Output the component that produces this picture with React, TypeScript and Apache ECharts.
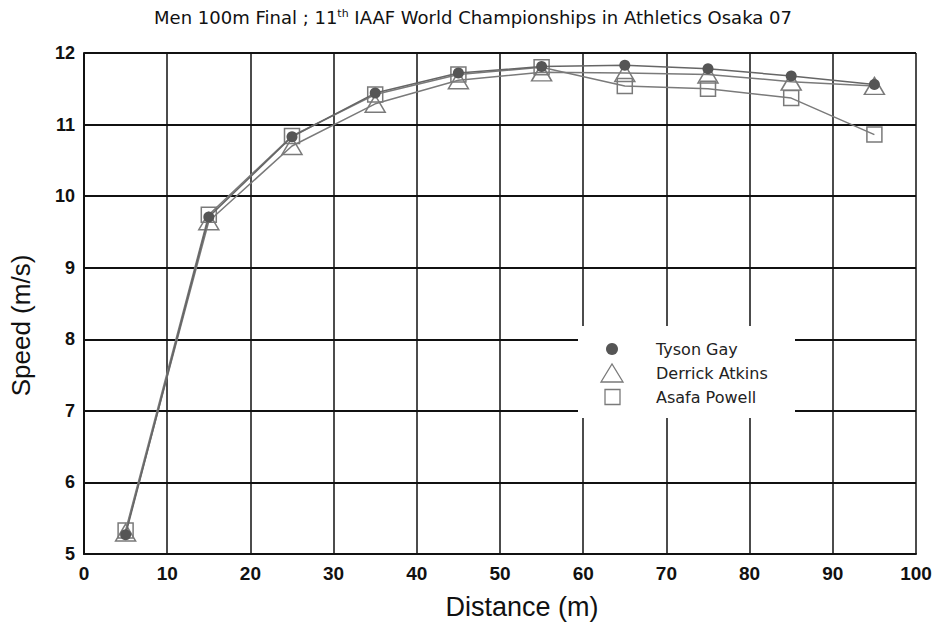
import React, { useEffect, useRef } from "react";
import * as echarts from "echarts";

const distances = [5, 15, 25, 35, 45, 55, 65, 75, 85, 95];
const tysonGay = [5.27, 9.71, 10.83, 11.44, 11.72, 11.81, 11.83, 11.78, 11.68, 11.56];
const derrickAtkins = [5.3, 9.65, 10.7, 11.29, 11.62, 11.73, 11.72, 11.7, 11.6, 11.54];
const asafaPowell = [5.33, 9.74, 10.84, 11.42, 11.7, 11.8, 11.54, 11.5, 11.37, 10.86];

const seriesNames = ["Tyson Gay", "Derrick Atkins", "Asafa Powell"];
const xTicks = { min: 0, max: 100, interval: 10 };
const yTicks = { min: 5, max: 12, interval: 1 };

const NARROW = "'Liberation Sans Narrow', 'Liberation Sans', sans-serif";
const SANS = "'Liberation Sans', sans-serif";
const WIDE = "'DejaVu Sans', sans-serif";
const LINE = "#7a7a7a";

export default function App() {
  const ref = useRef<HTMLDivElement>(null);
  useEffect(() => {
    const chart = echarts.init(ref.current!, undefined, { renderer: "svg" });
    const pairs = (arr: number[]) => distances.map((d, i) => [d, arr[i]]);
    const legendRows = [349, 373, 397];
    chart.setOption({
      animation: false,
      backgroundColor: "#fff",
      title: {
        text: "Men 100m Final ; 11{sup|th} IAAF World Championships in Athletics Osaka 07",
        left: 468,
        textAlign: "center",
        top: 3,
        textStyle: {
          fontFamily: WIDE,
          fontSize: 18,
          fontWeight: "normal",
          color: "#111",
          rich: {
            sup: {
              fontSize: 11,
              verticalAlign: "top",
              padding: [0, 0, 8, 0],
              fontFamily: WIDE,
              color: "#111",
            },
          },
        },
      },
      grid: { left: 84, right: 20, top: 53, bottom: 70, containLabel: false },
      xAxis: {
        type: "value",
        min: xTicks.min,
        max: xTicks.max,
        interval: xTicks.interval,
        name: "Distance (m)",
        nameLocation: "middle",
        nameGap: 39,
        nameTextStyle: { fontFamily: SANS, fontSize: 27, color: "#111", padding: [0, 0, 0, 44] },
        axisLine: { show: true, lineStyle: { color: "#111", width: 2 } },
        axisTick: { show: false },
        axisLabel: {
          fontFamily: NARROW,
          fontSize: 19,
          color: "#111",
          margin: 10,
          fontWeight: "bold",
        },
        splitLine: { show: true, lineStyle: { color: "#111", width: 1.5 } },
      },
      yAxis: {
        type: "value",
        min: yTicks.min,
        max: yTicks.max,
        interval: yTicks.interval,
        name: "Speed (m/s)",
        nameLocation: "middle",
        nameGap: 50,
        nameTextStyle: { fontFamily: SANS, fontSize: 26, color: "#111", padding: [0, 44, 0, 0] },
        axisLine: { show: true, lineStyle: { color: "#111", width: 2 } },
        axisTick: { show: false },
        axisLabel: {
          fontFamily: SANS,
          fontSize: 18,
          color: "#111",
          margin: 9,
          fontWeight: "bold",
        },
        splitLine: { show: true, lineStyle: { color: "#111", width: 2 } },
      },
      graphic: [
        {
          type: "rect",
          shape: { x: 578, y: 326, width: 217, height: 92 },
          style: { fill: "#fff" },
          z: 5,
        },
        {
          type: "circle",
          shape: { cx: 612, cy: legendRows[0], r: 6 },
          style: { fill: "#555" },
          z: 6,
        },
        {
          type: "polygon",
          shape: {
            points: [
              [601, legendRows[1] + 9],
              [623, legendRows[1] + 9],
              [612, legendRows[1] - 9],
            ],
          },
          style: { fill: "none", stroke: LINE, lineWidth: 1.3 },
          z: 6,
        },
        {
          type: "rect",
          shape: { x: 605, y: legendRows[2] - 7.5, width: 15, height: 15 },
          style: { fill: "none", stroke: LINE, lineWidth: 1.3 },
          z: 6,
        },
        ...seriesNames.map((name, i) => ({
          type: "text",
          x: 656,
          y: legendRows[i],
          style: {
            text: name,
            fontFamily: WIDE,
            fontSize: 16,
            fill: "#222",
            verticalAlign: "middle",
            align: "left",
          },
          z: 6,
        })),
      ],
      series: [
        {
          name: seriesNames[2],
          type: "line",
          data: pairs(asafaPowell),
          symbol: "rect",
          symbolSize: 15,
          lineStyle: { color: LINE, width: 1.5 },
          itemStyle: { color: "rgba(0,0,0,0)", borderColor: LINE, borderWidth: 1.5 },
          z: 2,
        },
        {
          name: seriesNames[1],
          type: "line",
          data: pairs(derrickAtkins),
          symbol: "triangle",
          symbolSize: [20, 17],
          lineStyle: { color: LINE, width: 1.5 },
          itemStyle: { color: "rgba(0,0,0,0)", borderColor: LINE, borderWidth: 1.5 },
          z: 3,
        },
        {
          name: seriesNames[0],
          type: "line",
          data: pairs(tysonGay),
          symbol: "circle",
          symbolSize: 11,
          lineStyle: { color: "#666", width: 1.5 },
          itemStyle: { color: "#555", borderWidth: 0 },
          z: 4,
        },
      ],
    });
    return () => chart.dispose();
  }, []);
  return <div ref={ref} style={{ width: 936, height: 625, position: "absolute", left: 0, top: 0 }} />;
}
